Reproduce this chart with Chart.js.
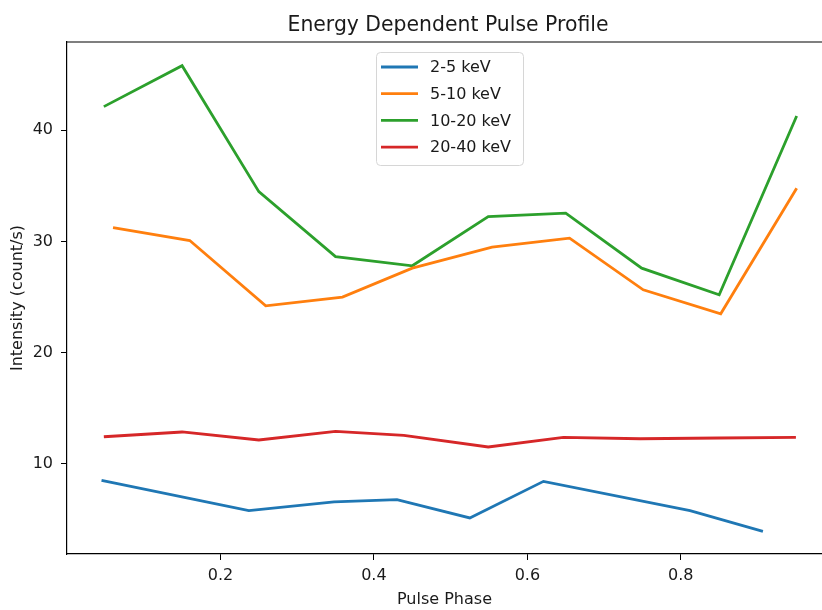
<!DOCTYPE html>
<html>
<head>
<meta charset="utf-8">
<script src="https://cdn.jsdelivr.net/npm/chart.js@4.4.1/dist/chart.umd.min.js"></script>
<style>
  body { margin: 0; background: #fff; }
  #wrap { width: 822px; height: 610px; }
</style>
</head>
<body>
<div id="wrap"><canvas id="pulseChart" width="822" height="610"></canvas></div>
<script>
// pulse phase / intensity, one pair per energy band
const bandLabels = ['2-5 keV', '5-10 keV', '10-20 keV', '20-40 keV'];
const bandColors = ['#1f77b4', '#ff7f0e', '#2ca02c', '#d62728'];

const phase2to5 = [0.045, 0.237, 0.348, 0.430, 0.525, 0.621, 0.812, 0.907];
const flux2to5 = [8.52, 5.80, 6.58, 6.78, 5.14, 8.43, 5.80, 3.94];

const phase5to10 = [0.060, 0.160, 0.259, 0.359, 0.450, 0.554, 0.655, 0.751, 0.852, 0.951];
const flux5to10 = [31.25, 30.08, 24.21, 25.0, 27.6, 29.49, 30.3, 25.65, 23.5, 34.79];

const phase10to20 = [0.048, 0.150, 0.250, 0.350, 0.450, 0.549, 0.650, 0.749, 0.850, 0.951];
const flux10to20 = [42.12, 45.8, 34.48, 28.64, 27.81, 32.24, 32.54, 27.6, 25.2, 41.28];

const phase20to40 = [0.048, 0.150, 0.250, 0.350, 0.439, 0.549, 0.647, 0.747, 0.850, 0.950];
const flux20to40 = [12.44, 12.87, 12.15, 12.92, 12.56, 11.52, 12.38, 12.26, 12.33, 12.38];

const xTicks = [0.2, 0.4, 0.6, 0.8];
const yTicks = [10, 20, 30, 40];

const chartTitle = 'Energy Dependent Pulse Profile';
const FONT = 'DejaVu Sans';

function pairs(xs, ys) {
  return xs.map((x, i) => ({ x: x, y: ys[i] }));
}

const series = [
  pairs(phase2to5, flux2to5),
  pairs(phase5to10, flux5to10),
  pairs(phase10to20, flux10to20),
  pairs(phase20to40, flux20to40)
];

// title over the (cropped) axes, top spine, matplotlib style legend box
const framePlugin = {
  id: 'framePlugin',
  afterDraw(chart) {
    const ctx = chart.ctx;
    const a = chart.chartArea;
    ctx.save();

    // the axes run a bit past the right edge of the picture, so centre the title on them
    ctx.fillStyle = '#1a1a1a';
    ctx.font = '20.4px "' + FONT + '"';
    ctx.textAlign = 'center';
    ctx.textBaseline = 'alphabetic';
    ctx.fillText(chartTitle, 448, 30.5);

    ctx.strokeStyle = '#000';
    ctx.lineWidth = 1.2;
    ctx.beginPath();
    ctx.moveTo(a.left, a.top);
    ctx.lineTo(a.right, a.top);
    ctx.stroke();

    // legend
    const bx = 376.5, by = 52.5, bw = 147, bh = 113, r = 4;
    ctx.beginPath();
    ctx.moveTo(bx + r, by);
    ctx.arcTo(bx + bw, by, bx + bw, by + bh, r);
    ctx.arcTo(bx + bw, by + bh, bx, by + bh, r);
    ctx.arcTo(bx, by + bh, bx, by, r);
    ctx.arcTo(bx, by, bx + bw, by, r);
    ctx.closePath();
    ctx.fillStyle = 'rgba(255,255,255,0.8)';
    ctx.fill();
    ctx.strokeStyle = '#d6d6d6';
    ctx.lineWidth = 1;
    ctx.stroke();

    ctx.font = '16px "' + FONT + '"';
    ctx.textBaseline = 'middle';
    ctx.textAlign = 'left';
    bandLabels.forEach((lab, i) => {
      const y = 67 + i * 26.7;
      ctx.strokeStyle = bandColors[i];
      ctx.lineWidth = 2.8;
      ctx.beginPath();
      ctx.moveTo(381, y);
      ctx.lineTo(418, y);
      ctx.stroke();
      ctx.fillStyle = '#1a1a1a';
      ctx.fillText(lab, 430, y + 1);
    });
    ctx.restore();
  }
};

const ctx = document.getElementById('pulseChart').getContext('2d');

const pulseChart = new Chart(ctx, {
  type: 'line',
  data: {
    datasets: series.map((pts, i) => ({
      label: bandLabels[i],
      data: pts,
      borderColor: bandColors[i],
      backgroundColor: bandColors[i],
      borderWidth: 2.8,
      pointRadius: 0,
      tension: 0,
      fill: false
    }))
  },
  options: {
    responsive: false,
    animation: false,
    layout: { padding: { left: 0, right: 0, top: 42, bottom: 0 } },
    plugins: {
      legend: { display: false },
      tooltip: { enabled: false },
      title: { display: false }
    },
    scales: {
      x: {
        type: 'linear',
        min: 0,
        max: 0.984,
        afterFit: (scale) => { scale.height = 56; },
        afterBuildTicks: (scale) => { scale.ticks = xTicks.map(v => ({ value: v })); },
        grid: { drawOnChartArea: false, drawTicks: true, tickLength: 6, color: '#000' },
        border: { display: true, color: '#000', width: 1.2 },
        ticks: {
          color: '#1a1a1a',
          padding: 6,
          font: { family: FONT, size: 16 },
          callback: (v) => v.toFixed(1)
        },
        title: {
          display: true,
          text: 'Pulse Phase',
          color: '#1a1a1a',
          font: { family: FONT, size: 16 },
          padding: { top: 0, bottom: 1 }
        }
      },
      y: {
        type: 'linear',
        min: 1.9,
        max: 47.93,
        afterFit: (scale) => { scale.width = 67; },
        afterBuildTicks: (scale) => { scale.ticks = yTicks.map(v => ({ value: v })); },
        grid: { drawOnChartArea: false, drawTicks: true, tickLength: 6, color: '#000' },
        border: { display: true, color: '#000', width: 1.2 },
        ticks: {
          color: '#1a1a1a',
          padding: 8,
          font: { family: FONT, size: 16 }
        },
        title: {
          display: true,
          text: 'Intensity (count/s)',
          color: '#1a1a1a',
          font: { family: FONT, size: 16 },
          padding: { top: 8, bottom: 0 }
        }
      }
    }
  },
  plugins: [framePlugin]
});
</script>
</body>
</html>
